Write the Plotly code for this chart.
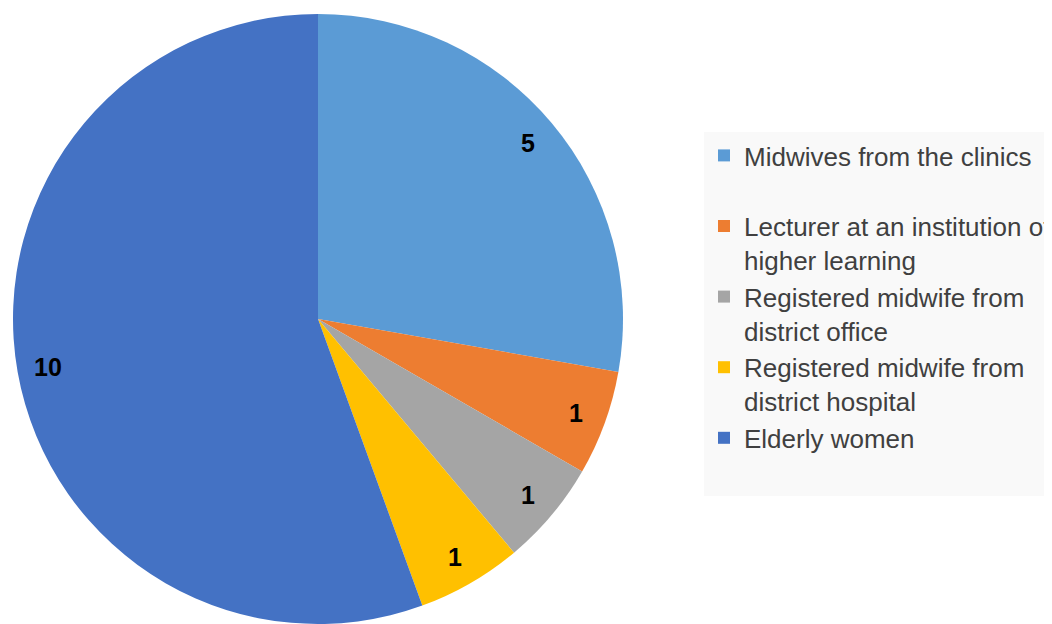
import math
import plotly.graph_objects as go

legend_text = [
    "Midwives from the clinics<br> ",
    "Lecturer at an institution of<br>higher learning",
    "Registered midwife from<br>district office",
    "Registered midwife from<br>district hospital",
    "Elderly women<br> ",
]
values = [5, 1, 1, 1, 10]
colors = ["#5B9BD5", "#ED7D31", "#A5A5A5", "#FFC000", "#4472C4"]

# page body adds an 8px margin, so the figure is sized to fill the rest of the window
W, H = 1044, 616
dom_x = [5 / W, 615 / W]
dom_y = [0.0, 610 / H]

fig = go.Figure()
fig.add_trace(go.Pie(
    labels=legend_text,
    values=values,
    sort=False,
    direction="clockwise",
    rotation=0,
    marker=dict(colors=colors, line=dict(width=0)),
    textinfo="none",
    hoverinfo="label+value",
    domain=dict(x=dom_x, y=dom_y),
))

# data labels at 90% of the radius, at each slice's mid-angle
cx = (dom_x[0] + dom_x[1]) / 2 * W
cy = H - (dom_y[0] + dom_y[1]) / 2 * H
R = min((dom_x[1] - dom_x[0]) * W, (dom_y[1] - dom_y[0]) * H) / 2
total = sum(values)
cum = 0
annotations = []
for v in values:
    mid = (cum + v / 2) / total * 2 * math.pi
    cum += v
    px = cx + 0.9 * R * math.sin(mid)
    py = cy - 0.9 * R * math.cos(mid)
    annotations.append(dict(
        x=px / W, y=1 - py / H, xref="paper", yref="paper",
        text=f"<b>{v}</b>", showarrow=False,
        font=dict(size=25, color="#000000", family="Liberation Sans, Arial"),
        xanchor="center", yanchor="middle",
    ))

fig.update_layout(
    width=W, height=H,
    margin=dict(l=0, r=0, t=0, b=0, autoexpand=False),
    paper_bgcolor="#FFFFFF",
    plot_bgcolor="#FFFFFF",
    font=dict(family="Liberation Sans, Arial", color="#404040"),
    annotations=annotations,
    legend=dict(
        x=696 / W, y=1 - 124 / H, xanchor="left", yanchor="top",
        bgcolor="#F9F9F9", borderwidth=0,
        font=dict(size=26, color="#404040", family="Liberation Sans, Arial"),
        valign="top", traceorder="normal",
    ),
    showlegend=True,
)

fig.write_html("out.html")
